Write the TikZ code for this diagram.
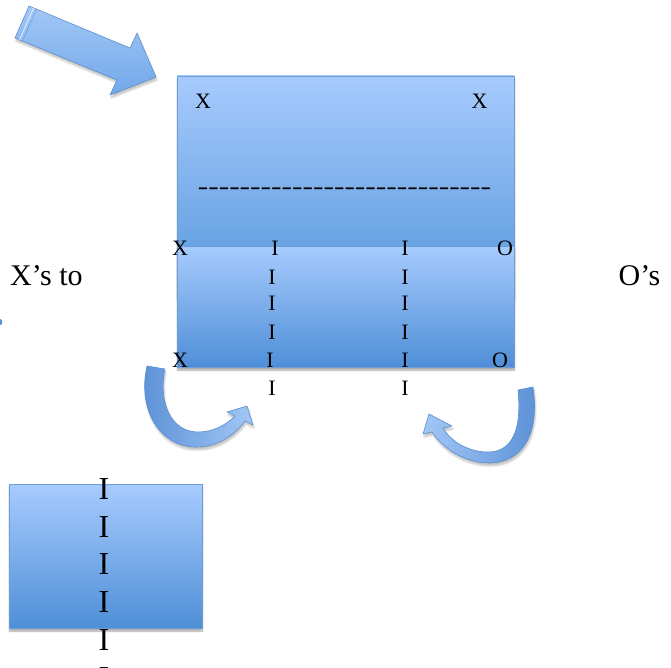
\documentclass[tikz,border=0pt]{standalone}
\usepackage{fontspec}
\setmainfont{Liberation Serif}
\usetikzlibrary{shadows.blur}
\definecolor{boxlight}{HTML}{A7CBFE}
\definecolor{boxdark}{HTML}{4F8FD7}
\definecolor{boxmid}{HTML}{5797DB}
\definecolor{boxedge}{HTML}{6E9ED8}
\definecolor{arrowedge}{HTML}{5B8FCF}
\definecolor{arrowdark}{HTML}{5A90D6}
\definecolor{arrowlight}{HTML}{A2C7F6}
\definecolor{arrowbody}{HTML}{72A8EA}
\newcommand\hyph{-\kern0pt}
\begin{document}
\begin{tikzpicture}[x=1pt,y=-1pt,
  bluebox/.style={draw=boxedge, line width=0.8pt, top color=boxlight,
    blur shadow={shadow xshift=0.5pt, shadow yshift=-3pt, shadow blur steps=6, shadow opacity=35}},
  bluearrow/.style={draw=arrowedge, line width=0.6pt, line join=round,
    blur shadow={shadow xshift=1pt, shadow yshift=-3pt, shadow blur steps=6, shadow opacity=25}},
  lbl/.style={inner sep=0pt, font=\fontsize{22}{22}\selectfont},
  bigI/.style={inner sep=0pt, font=\fontsize{32}{32}\selectfont},
  side/.style={inner sep=0pt, font=\fontsize{30}{30}\selectfont}]
\useasboundingbox (0,0) rectangle (671,668);
\clip (0,0) rectangle (671,668);

% big straight arrow
\path[bluearrow, top color=arrowlight, bottom color=arrowbody]
  (29,6) -- (130,48) -- (137,33) -- (156,77) -- (110,95) -- (117,80) -- (15,38) -- cycle;
\draw[white!60!arrowlight, line width=1pt] (33.6,7.9) -- (19.6,39.9);
\draw[arrowdark!85!white, line width=0.6pt] (36.5,9.1) -- (22.5,41.1);

% top box and lower box
\path[bluebox, bottom color=boxmid] (177,76) rectangle (514,297);
\path[bluebox, bottom color=boxdark] (177,246) rectangle (514,367);

% bottom-left box
\path[bluebox, bottom color=boxdark] (9,484) rectangle (202,628);

% curved arrow, left
\path[bluearrow, left color=arrowdark, right color=arrowlight]
  (147,366) -- (165,369)
  .. controls (158,400) and (170,432) .. (198,432)
  .. controls (213,432) and (226,425) .. (235,416)
  -- (227,412) -- (247,406) -- (253,425) -- (245,421)
  .. controls (232,438) and (215,447) .. (196,447)
  .. controls (160,447) and (137,410) .. (147,366) -- cycle;

% curved arrow, right
\path[bluearrow, left color=arrowlight, right color=arrowdark]
  (518,390) -- (533,387)
  .. controls (540,435) and (522,462) .. (490,463)
  .. controls (466,463) and (444,450) .. (432,432)
  -- (423,434) -- (429,414) -- (452,426) -- (443,428)
  .. controls (452,443) and (470,452) .. (488,452)
  .. controls (512,452) and (522,430) .. (518,390) -- cycle;

% tiny fragment at left edge
\fill[arrowdark] (0,319) -- (2,320) -- (2,324) -- (0,325) -- cycle;

% texts in top box
\node[lbl] (tx1) at (203,101) {X};
\node[lbl] (tx2) at (479.5,101) {X};
\node[lbl, anchor=base] (dashes) at (344.5,195) {\scalebox{1.43}[1.1]{\hyph\hyph\hyph\hyph\hyph\hyph\hyph\hyph\hyph\hyph\hyph\hyph\hyph\hyph\hyph\hyph\hyph\hyph\hyph\hyph\hyph\hyph\hyph\hyph\hyph\hyph\hyph\hyph}};

% rows
\node[lbl] (r1x) at (180,248) {X};
\node[lbl] (r1a) at (275,248) {I};
\node[lbl] (r1b) at (405,248) {I};
\node[lbl] (r1o) at (505,248) {O};
\node[lbl] (r2a) at (272,277) {I};
\node[lbl] (r2b) at (405,277) {I};
\node[lbl] (r3a) at (272,303) {I};
\node[lbl] (r3b) at (405,303) {I};
\node[lbl] (r4a) at (272,332) {I};
\node[lbl] (r4b) at (405,332) {I};
\node[lbl] (r5x) at (180,360) {X};
\node[lbl] (r5a) at (270,360) {I};
\node[lbl] (r5b) at (405,360) {I};
\node[lbl] (r5o) at (500,360) {O};
\node[lbl] (r6a) at (272,388) {I};
\node[lbl] (r6b) at (405,388) {I};

% side labels
\node[side] (xsto) at (46.5,276) {X’s to};
\node[side] (os) at (639.5,276) {O’s};

% bottom-left column of I (the last one runs off the lower edge, as in the reference)
\node[bigI] (b1) at (104,489) {I};
\node[bigI] (b2) at (104,527) {I};
\node[bigI] (b3) at (104,564) {I};
\node[bigI] (b4) at (104,602) {I};
\node[bigI] (b5) at (104,640) {I};
\node[bigI] (b6) at (104,678) {I};
\end{tikzpicture}
\end{document}
